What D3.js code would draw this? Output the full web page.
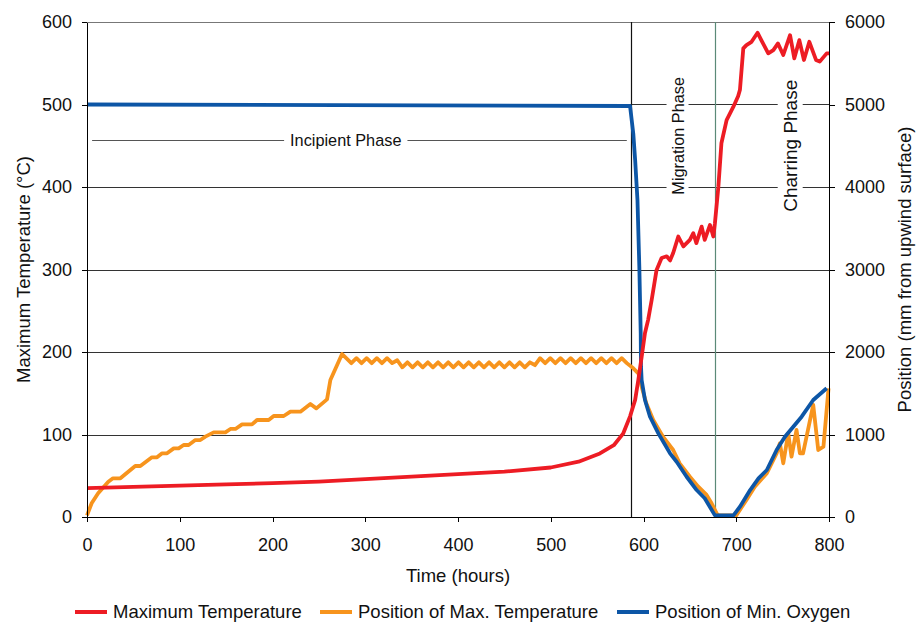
<!DOCTYPE html>
<html>
<head>
	<title>temperature</title>
	<style>
	body { margin: 0; background: #fff; }
	text { font-family: "Liberation Sans", Arial, sans-serif; fill: #111; }
	.tick text { font-size: 18px; }
	.axistitle { font-size: 18.5px; }
	.legendtext { font-size: 18.5px; }
	.phase { font-size: 16.3px; }
	</style>
	<script src="https://d3js.org/d3.v7.min.js"></script>
</head>
<body>
	<script type="text/javascript">
		// red series: maximum temperature (°C)
		var tempTime = [0, 50, 100, 150, 200, 250, 300, 350, 400, 450, 500, 530, 553, 568, 578, 585.5, 591, 594.4, 598, 601.6, 605, 608.8, 614, 619.5, 625, 628.6, 632, 637.5, 643, 650, 653.7, 657, 662.7, 666, 671.7, 675.3, 677, 680.7, 684, 689.6, 696.8, 702, 704, 707.6, 711, 716.5, 723, 727, 734.5, 740, 745, 750.7, 758, 762.6, 768, 773, 778.8, 786, 790, 797.5, 800];
		var tempValue = [35, 36.5, 38, 39.5, 41, 43, 46, 49, 52, 55, 60, 67, 77, 87, 101, 122, 142, 166, 194, 223, 239, 263, 299, 314, 316, 311, 320, 340, 328, 336, 344, 332, 352, 336, 354, 340, 356, 400, 453, 481, 497, 510, 518, 568, 572, 576, 587, 578, 562, 566, 574, 560, 584, 556, 578, 554, 576, 554, 552, 562, 562];

		// orange series: position of max. temperature (mm)
		var posMaxTime = [0, 5, 12, 23, 28, 36, 52, 57.5, 70, 75.5, 81, 86.3, 93.5, 98.8, 104.2, 109.6, 116.8, 122.2, 127.6, 136.6, 149.2, 154.6, 160, 167.2, 177.9, 183.3, 195.9, 201.3, 212.1, 219.3, 230.1, 240.8, 247.3, 258.8, 262.4, 275,
			285, 290.5, 296, 301.5, 307, 312.5, 318, 323.5, 329, 334.5, 340, 345.5, 351, 356.5, 362, 367.5, 373, 378.5, 384, 389.5, 395, 400.5, 406, 411.5, 417, 422.5, 428, 433.5, 439, 444.5, 450, 455.5, 461, 466.5, 472, 477.5, 483, 488.5, 494, 499.5, 505, 510.5, 516, 521.5, 527, 532.5, 538, 543.5, 549, 554.5, 560, 565.5, 571, 576.5, 582,
			589, 594.4, 598, 603, 610.5, 621, 632, 639, 650, 659, 668, 673.4, 679, 681, 700, 711, 720, 733, 743.5, 747, 750.7, 756, 759.6, 765, 768.6, 772, 783, 788.4, 794, 799.5];
		var posMaxValue = [20, 166, 287, 428, 469, 469, 618, 618, 723, 723, 772, 772, 832, 832, 873, 873, 933, 933, 974, 1026, 1026, 1067, 1067, 1123, 1123, 1176, 1176, 1224, 1224, 1277, 1277, 1370, 1317, 1426, 1661, 1976,
			1865, 1925, 1865, 1925, 1865, 1925, 1865, 1925, 1865, 1900, 1815, 1875, 1815, 1875, 1815, 1875, 1815, 1875, 1815, 1875, 1815, 1875, 1815, 1875, 1815, 1875, 1815, 1875, 1815, 1875, 1815, 1875, 1815, 1875, 1815, 1875, 1840, 1925, 1865, 1925, 1865, 1925, 1865, 1925, 1865, 1925, 1865, 1925, 1865, 1925, 1865, 1925, 1865, 1925, 1865,
			1802, 1741, 1580, 1378, 1176, 973, 812, 651, 488, 367, 267, 166, 40, 20, 20, 206, 367, 530, 772, 893, 651, 1014, 731, 1055, 772, 772, 1358, 812, 852, 1560];

		// blue series: position of min. oxygen (mm)
		var posO2Time = [0, 585.5, 589, 591, 593.5, 595.5, 597, 597.3, 598, 601.6, 607, 616, 628.6, 635.7, 646.5, 657.3, 666, 677, 697, 704, 715, 724, 733, 743.5, 752.5, 761.5, 770.5, 783, 797.5];
		var posO2Value = [5000, 4982, 4646, 4327, 3842, 3034, 2226, 1822, 1660, 1418, 1216, 1014, 772, 670, 488, 327, 227, 20, 20, 125, 327, 469, 570, 812, 973, 1095, 1216, 1418, 1560];

		var xTicks = [0, 100, 200, 300, 400, 500, 600, 700, 800];
		var yTicks = [0, 100, 200, 300, 400, 500, 600];
		var y2Ticks = [0, 1000, 2000, 3000, 4000, 5000, 6000];
		var phaseLines = [586.5, 677];
		var seriesNames = ['Maximum Temperature', 'Position of Max. Temperature', 'Position of Min. Oxygen'];
		var seriesColors = ['#ed1c24', '#f7941d', '#0d56a6'];

		var W = 917, H = 623;
		var margin = {top: 22, right: 88, bottom: 106, left: 87};
		var w = W - margin.left - margin.right;
		var h = H - margin.top - margin.bottom;

		var svg = d3.select('body').append('svg')
			.attr('width', W)
			.attr('height', H);
		var g = svg.append('g').attr('transform', 'translate(' + margin.left + ',' + margin.top + ')');

		var x = d3.scaleLinear().domain([0, 800]).range([0, w]);
		var y = d3.scaleLinear().domain([0, 600]).range([h, 0]);
		var y2 = d3.scaleLinear().domain([0, 6000]).range([h, 0]);

		// gridlines
		g.append('g').selectAll('line')
			.data(yTicks.slice(1))
			.enter().append('line')
			.attr('x1', 0).attr('x2', w)
			.attr('y1', function (d) { return Math.round(y(d)) + 0.5; })
			.attr('y2', function (d) { return Math.round(y(d)) + 0.5; })
			.style('stroke', function (d) { return d === 600 ? '#777' : '#333'; })
			.style('stroke-width', 1);

		// phase separators
		g.append('g').selectAll('line')
			.data(phaseLines)
			.enter().append('line')
			.attr('x1', function (d) { return Math.round(x(d)) + 0.5; })
			.attr('x2', function (d) { return Math.round(x(d)) + 0.5; })
			.attr('y1', 0).attr('y2', h)
			.style('stroke', function (d, i) { return i === 0 ? '#111' : '#5b8a78'; })
			.style('stroke-width', 1.2);

		// incipient phase bracket
		g.append('line')
			.attr('x1', x(5.5)).attr('x2', x(582))
			.attr('y1', Math.round(y(457)) + 0.5).attr('y2', Math.round(y(457)) + 0.5)
			.style('stroke', '#555').style('stroke-width', 1);

		function phaseLabel(label, t, v, size, rotate) {
			var lg = g.append('g').attr('transform', 'translate(' + x(t) + ',' + y(v) + ')' + (rotate ? ' rotate(-90)' : ''));
			var txt = lg.append('text')
				.attr('class', 'phase')
				.style('font-size', size + 'px')
				.attr('text-anchor', 'middle')
				.attr('dy', '0.35em')
				.text(label);
			var bb = txt.node().getBBox();
			lg.insert('rect', 'text')
				.attr('x', bb.x - 6).attr('y', bb.y - 2)
				.attr('width', bb.width + 12).attr('height', bb.height + 4)
				.style('fill', '#fff');
		}
		phaseLabel('Incipient Phase', 279, 457, 16.3, false);
		phaseLabel('Migration Phase', 637, 462, 16.3, true);
		phaseLabel('Charring Phase', 758, 450, 19, true);

		// series
		var line1 = d3.line().x(function (d) { return x(d[0]); }).y(function (d) { return y(d[1]); });
		var line2 = d3.line().x(function (d) { return x(d[0]); }).y(function (d) { return y2(d[1]); });

		g.append('path')
			.datum(d3.zip(posMaxTime, posMaxValue))
			.attr('d', line2)
			.style('fill', 'none').style('stroke', seriesColors[1]).style('stroke-width', 3.8)
			.style('stroke-linejoin', 'round');
		g.append('path')
			.datum(d3.zip(posO2Time, posO2Value))
			.attr('d', line2)
			.style('fill', 'none').style('stroke', seriesColors[2]).style('stroke-width', 3.8)
			.style('stroke-linejoin', 'round');
		g.append('path')
			.datum(d3.zip(tempTime, tempValue))
			.attr('d', line1)
			.style('fill', 'none').style('stroke', seriesColors[0]).style('stroke-width', 3.8)
			.style('stroke-linejoin', 'round');

		// axes
		g.append('g')
			.attr('transform', 'translate(0,' + h + ')')
			.call(d3.axisBottom(x).tickValues(xTicks).tickSize(5).tickPadding(16).tickSizeOuter(0));
		g.append('g')
			.call(d3.axisLeft(y).tickValues(yTicks).tickSize(5).tickPadding(10).tickSizeOuter(0));
		g.append('g')
			.attr('transform', 'translate(' + w + ',0)')
			.call(d3.axisRight(y2).tickValues(y2Ticks).tickFormat(d3.format('d')).tickSize(6).tickPadding(10).tickSizeOuter(0));
		svg.selectAll('.domain, .tick line').style('stroke', '#000').style('shape-rendering', 'crispEdges');

		// axis titles
		svg.append('text').attr('class', 'axistitle')
			.attr('text-anchor', 'middle')
			.attr('x', margin.left + w / 2).attr('y', 582)
			.text('Time (hours)');
		svg.append('text').attr('class', 'axistitle')
			.attr('text-anchor', 'middle')
			.attr('transform', 'translate(30,' + (margin.top + h / 2) + ') rotate(-90)')
			.text('Maximum Temperature (°C)');
		svg.append('text').attr('class', 'axistitle')
			.attr('text-anchor', 'middle')
			.attr('transform', 'translate(911,' + (margin.top + h / 2) + ') rotate(-90)')
			.text('Position (mm from upwind surface)');

		// legend
		var legendX = [75, 320, 617];
		var lg = svg.append('g').selectAll('g')
			.data(seriesNames)
			.enter().append('g')
			.attr('transform', function (d, i) { return 'translate(' + legendX[i] + ',612)'; });
		lg.append('line')
			.attr('x1', 0).attr('x2', 32)
			.style('stroke', function (d, i) { return seriesColors[i]; })
			.style('stroke-width', 4);
		lg.append('text')
			.attr('class', 'legendtext')
			.attr('x', 38).attr('dy', '0.35em')
			.text(function (d) { return d; });
	</script>
</body>
</html>
